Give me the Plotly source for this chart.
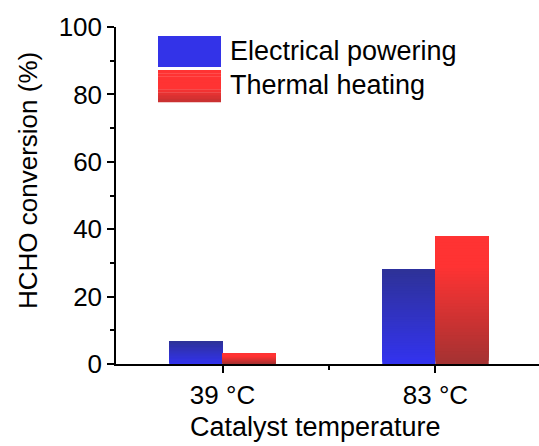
import plotly.graph_objects as go

# ---- data ----
categories = ["39 °C", "83 °C"]
x_pos = [0, 1]
electrical = [6.8, 28.0]
thermal = [3.0, 38.0]
series_names = ["Electrical powering", "Thermal heating"]
y_ticks = [0, 20, 40, 60, 80, 100]

# ---- styling ----
FONT = "Liberation Sans, Arial, sans-serif"
FS = 26
FS_BIG = 27
W, H = 539, 446
ML, MR, MT, MB = 116, 0, 27, 82

def lerp(c1, c2, t):
    return "rgb(%d,%d,%d)" % tuple(round(a + (b - a) * t) for a, b in zip(c1, c2))

blue_bottom, blue_top = (51, 51, 238), (46, 50, 150)
red_bottom, red_top = (165, 50, 50), (255, 51, 51)

fig = go.Figure()
N = 40
for vals, offset, cb, ct, span in [(electrical, -0.25, blue_bottom, blue_top, 1.0),
                                   (thermal, 0.0, red_bottom, red_top, 0.75)]:
    for i in range(N):
        t = i / N
        tt = min(1.0, t / span)
        base = [v * i / N for v in vals]
        h = [v - b for v, b in zip(vals, base)]
        fig.add_bar(x=x_pos, y=h, base=base, offset=offset, width=0.25,
                    marker=dict(color=lerp(cb, ct, tt), line=dict(width=0)),
                    showlegend=False, hoverinfo="skip")

pw = W - ML - MR
ph = H - MT - MB
def px(X):
    return (X - ML) / pw
def py(Y):
    return (H - MB - Y) / ph

shapes = []
# legend swatches
shapes.append(dict(type="rect", xref="paper", yref="paper",
                   x0=px(158), x1=px(221), y0=py(67), y1=py(36),
                   fillcolor="rgb(51,51,232)", line=dict(width=0)))
M = 10
for i in range(M):
    y0 = 70 + (102 - 70) * i / M
    y1 = 70 + (102 - 70) * (i + 1) / M
    t = max(0.0, (i / M - 0.5) / 0.5)
    shapes.append(dict(type="rect", xref="paper", yref="paper",
                       x0=px(158), x1=px(221), y0=py(y1 + 0.3), y1=py(y0),
                       fillcolor=lerp(red_top, (190, 48, 48), t), line=dict(width=0)))

annotations = [
    dict(text=series_names[0], x=px(228), y=py(51), xref="paper", yref="paper",
         xanchor="left", yanchor="middle", showarrow=False,
         font=dict(family=FONT, size=FS_BIG, color="black")),
    dict(text=series_names[1], x=px(228), y=py(85), xref="paper", yref="paper",
         xanchor="left", yanchor="middle", showarrow=False,
         font=dict(family=FONT, size=FS_BIG, color="black")),
    dict(text="HCHO conversion (%)", x=px(28), y=py(181), xref="paper", yref="paper",
         xanchor="center", yanchor="middle", textangle=-90, showarrow=False,
         font=dict(family=FONT, size=FS, color="black")),
    dict(text="Catalyst temperature", x=px(315), y=py(427), xref="paper", yref="paper",
         xanchor="center", yanchor="middle", showarrow=False,
         font=dict(family=FONT, size=FS_BIG, color="black")),
]

fig.update_layout(
    width=W, height=H,
    margin=dict(l=ML, r=MR, t=MT, b=MB, pad=0),
    paper_bgcolor="white", plot_bgcolor="white",
    barmode="overlay",
    showlegend=False,
    font=dict(family=FONT, size=FS, color="black"),
    shapes=shapes,
    annotations=annotations,
    xaxis=dict(
        range=[-0.5, 1.486], tickvals=x_pos, ticktext=categories,
        showgrid=False, zeroline=False,
        showline=True, linecolor="black", linewidth=1.5,
        ticks="outside", ticklen=7, tickwidth=1.5, tickcolor="black",
        minor=dict(tickvals=[0.5], ticks="outside", ticklen=4, tickwidth=1.5, tickcolor="black"),
        tickfont=dict(family=FONT, size=FS, color="black"),
        fixedrange=True,
    ),
    yaxis=dict(
        range=[0, 100], tickvals=y_ticks,
        showgrid=False, zeroline=False,
        showline=True, linecolor="black", linewidth=1.5,
        ticks="outside", ticklen=7, tickwidth=1.5, tickcolor="black",
        minor=dict(dtick=10, ticks="outside", ticklen=4, tickwidth=1.5, tickcolor="black", showgrid=False),
        tickfont=dict(family=FONT, size=FS, color="black"),
        fixedrange=True,
    ),
)

fig.write_html("out.html", config={"displayModeBar": False})
